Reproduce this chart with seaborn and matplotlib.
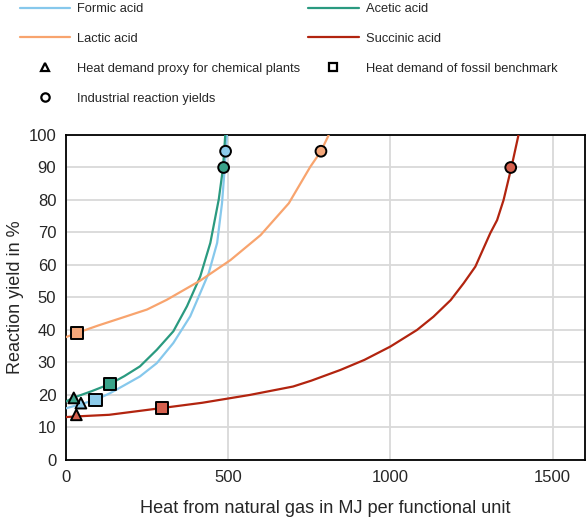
import numpy as np
import pandas as pd
import matplotlib
matplotlib.use("Agg")
import matplotlib.pyplot as plt
from matplotlib.lines import Line2D
import seaborn as sns

# curve points (heat in MJ, yield in %)
formic_x = [0, 50, 91, 135, 180, 228, 280, 331, 383, 414, 440, 466, 481, 489, 496]
formic_y = [15.9, 17.3, 18.5, 20.5, 23.0, 25.7, 29.8, 36.0, 44.2, 51.4, 57.5, 66.8, 79.0, 89.4, 100]
acetic_x = [0, 24, 80, 136, 180, 228, 280, 331, 373, 414, 445, 471, 484, 491]
acetic_y = [18.0, 19.2, 21.2, 23.4, 25.8, 28.8, 33.9, 39.6, 47.3, 56.5, 66.8, 80.2, 89.8, 100]
lactic_x = [0, 34, 100, 186, 250, 311, 414, 507, 600, 687, 753, 786, 810]
lactic_y = [37.8, 39.1, 41.4, 44.2, 46.3, 49.3, 55.2, 61.5, 69.2, 79.0, 90.2, 95.0, 100]
succinic_x = [0, 32, 133, 297, 420, 566, 700, 756, 846, 920, 1000, 1082, 1133, 1186, 1226,
              1262, 1308, 1329, 1349, 1373, 1395]
succinic_y = [13.2, 13.4, 13.9, 16.0, 17.6, 20.0, 22.6, 24.4, 27.7, 30.8, 34.9, 40.0, 44.1, 49.2, 54.4,
              59.5, 69.8, 73.8, 80.0, 90.0, 100]

# marker points: proxy (triangle), fossil benchmark (square), industrial yields (circle)
tri_acid = ["Formic acid", "Acetic acid", "Succinic acid"]
tri_x = [46, 24, 32]
tri_y = [17.5, 19.1, 13.9]
sq_acid = ["Formic acid", "Acetic acid", "Lactic acid", "Succinic acid"]
sq_x = [91, 136, 34, 297]
sq_y = [18.6, 23.3, 39.0, 16.0]
circ_acid = ["Formic acid", "Acetic acid", "Lactic acid", "Succinic acid"]
circ_x = [492, 486, 786, 1371]
circ_y = [95, 90, 95, 90]

line_colors = {"Formic acid": "#86c8ec", "Acetic acid": "#2a9a80",
               "Lactic acid": "#f8a46e", "Succinic acid": "#b2240f"}
fill_colors = {"Formic acid": "#8ccbea", "Acetic acid": "#3aa38a",
               "Lactic acid": "#f4a77a", "Succinic acid": "#d5604e"}

sns.set_style("white")
plt.rcParams['font.family'] = ['Liberation Sans', 'DejaVu Sans']

fig = plt.figure(figsize=(5.87, 5.17), dpi=100)
ax = fig.add_axes([0.1124, 0.1103, 0.8842, 0.6286])

curves = [("Formic acid", formic_x, formic_y), ("Acetic acid", acetic_x, acetic_y),
          ("Lactic acid", lactic_x, lactic_y), ("Succinic acid", succinic_x, succinic_y)]
for name, xs, ys in curves:
    sns.lineplot(x=xs, y=ys, ax=ax, color=line_colors[name], lw=1.6, zorder=3)

tri = pd.DataFrame({"acid": tri_acid, "x": tri_x, "y": tri_y})
sq = pd.DataFrame({"acid": sq_acid, "x": sq_x, "y": sq_y})
circ = pd.DataFrame({"acid": circ_acid, "x": circ_x, "y": circ_y})
for df, m, s in [(tri, "^", 60), (sq, "s", 75), (circ, "o", 60)]:
    sns.scatterplot(data=df, x="x", y="y", hue="acid", palette=fill_colors, marker=m, s=s,
                    edgecolor="black", linewidth=1.4, ax=ax, legend=False, zorder=5)

ax.set_xlim(0, 1600)
ax.set_ylim(0, 100)
ax.set_xticks([0, 500, 1000, 1500])
ax.set_yticks(range(0, 101, 10))
ax.grid(True, color="#d9d9d9", lw=1.3)
ax.set_axisbelow(True)
for sp in ax.spines.values():
    sp.set_color("black")
    sp.set_linewidth(1.3)
ax.tick_params(length=0, labelsize=12, pad=7)
ax.set_xlabel("Heat from natural gas in MJ per functional unit", fontsize=13.1, labelpad=11)
ax.set_ylabel("Reaction yield in %", fontsize=13, labelpad=3.5)

handles = [
    Line2D([], [], color=line_colors["Formic acid"], lw=1.6),
    Line2D([], [], color=line_colors["Lactic acid"], lw=1.6),
    Line2D([], [], ls="none", marker="^", mfc="white", mec="black", mew=1.6, ms=6),
    Line2D([], [], ls="none", marker="o", mfc="white", mec="black", mew=1.6, ms=6),
    Line2D([], [], color=line_colors["Acetic acid"], lw=1.6),
    Line2D([], [], color=line_colors["Succinic acid"], lw=1.6),
    Line2D([], [], ls="none", marker="s", mfc="white", mec="black", mew=1.6, ms=6),
]
labels = ["Formic acid", "Lactic acid", "Heat demand proxy for chemical plants",
          "Industrial reaction yields", "Acetic acid", "Succinic acid",
          "Heat demand of fossil benchmark"]
fig.legend(handles, labels, ncol=2, loc="upper left", bbox_to_anchor=(0.034, 0.994),
           frameon=False, fontsize=9.3, handlelength=3.9, handletextpad=0.55,
           labelspacing=1.38, columnspacing=0.6, borderpad=0, borderaxespad=0)

fig.savefig("out.png", dpi=100)
